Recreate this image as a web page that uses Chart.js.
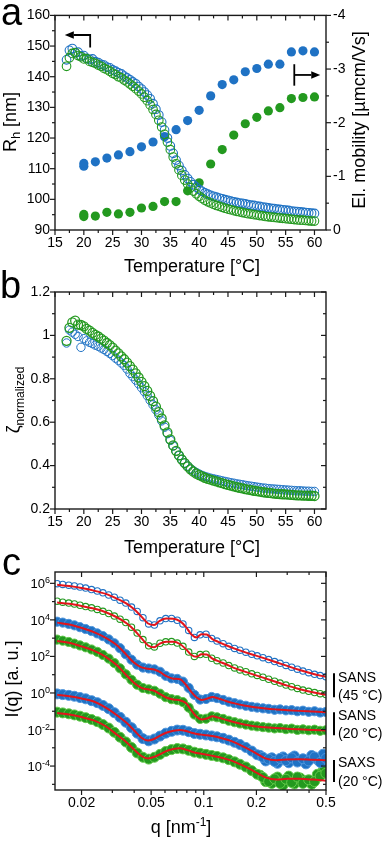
<!DOCTYPE html>
<html><head><meta charset="utf-8">
<script src="https://cdn.jsdelivr.net/npm/chart.js@4.4.1/dist/chart.umd.min.js"></script>
<style>
html,body{margin:0;padding:0;background:#fff;width:392px;height:842px;overflow:hidden;position:relative}
canvas{position:absolute;left:0}
</style></head><body>
<canvas id="ca" width="392" height="285" style="top:0px"></canvas>
<canvas id="cb" width="392" height="300" style="top:262px"></canvas>
<canvas id="cc" width="392" height="294" style="top:548px"></canvas>
<script>
// ---------------- DATA ----------------
// Panel a / b : temperature grid of DLS measurements (°C)
const tempDLS = [17,17.5,18,18.5,19,19.5,20,20.5,21,21.5,22,22.5,23,23.5,24,24.5,25,25.5,26,26.5,27,27.5,28,28.5,29,29.5,30,30.5,31,31.5,32,32.5,33,33.5,34,34.5,35,35.5,36,36.5,37,37.5,38,38.5,39,39.5,40,40.5,41,41.5,42,42.5,43,43.5,44,44.5,45,45.5,46,46.5,47,47.5,48,48.5,49,49.5,50,50.5,51,51.5,52,52.5,53,53.5,54,54.5,55,55.5,56,56.5,57,57.5,58,58.5,59,59.5,60];
// hydrodynamic radius Rh [nm]
const rhBlue = [145.5,148.6,149.2,147.8,148.0,146.8,146.9,146.0,145.6,145.8,
144.9,144.6,144.0,143.8,143.1,142.9,142.2,141.8,141.3,140.9,
140.2,139.6,139.0,138.3,137.7,136.8,136.0,135.0,134.0,132.8,
131.2,129.4,127.5,125.2,122.6,120.0,117.4,115.0,112.8,111.0,
109.4,108.0,106.8,105.7,104.8,104.0,103.2,102.6,102.1,101.7,
101.3,101.0,100.7,100.4,100.2,99.9,99.7,99.4,99.2,99.0,
98.8,98.7,98.5,98.3,98.1,98.0,97.8,97.7,97.5,97.4,
97.2,97.1,97.0,96.8,96.7,96.6,96.5,96.4,96.2,96.1,
96.0,95.9,95.8,95.7,95.6,95.5,95.4];
const rhGreen = [143.4,146.2,147.6,147.9,146.9,146.5,145.8,145.9,145.0,144.7,
144.4,143.8,143.4,142.7,142.3,141.8,141.1,140.7,140.0,139.6,
138.9,138.3,137.6,136.9,136.1,135.3,134.4,133.3,132.2,130.8,
129.3,127.7,125.8,123.6,121.2,118.7,116.2,113.8,111.6,109.6,
107.8,106.3,105.0,103.8,102.7,101.8,101.0,100.3,99.7,99.2,
98.8,98.4,98.0,97.7,97.4,97.1,96.8,96.6,96.3,96.1,
95.9,95.7,95.5,95.3,95.2,95.0,94.9,94.7,94.6,94.4,
94.3,94.2,94.1,94.0,93.9,93.8,93.7,93.6,93.5,93.4,
93.3,93.2,93.2,93.1,93.0,92.9,92.9];
// electrophoretic mobility [µmcm/Vs]
const tempMob = [20,20,22,24,26,28,30,32,34,36,38,40,42,44,46,48,50,52,54,56,58,60];
const mobBlue = [-1.19,-1.24,-1.27,-1.34,-1.40,-1.46,-1.55,-1.64,-1.74,-1.87,-2.04,-2.23,-2.50,-2.71,-2.80,-2.95,-3.01,-3.09,-3.09,-3.32,-3.34,-3.32];
const mobGreen = [-0.25,-0.29,-0.26,-0.33,-0.30,-0.33,-0.41,-0.44,-0.53,-0.53,-0.73,-0.88,-1.23,-1.50,-1.77,-1.98,-2.10,-2.22,-2.28,-2.45,-2.47,-2.48];
// normalized zeta (panel b)
const zetaBlue = [0.965,1.025,1.015,1.005,0.995,0.945,0.985,0.975,0.968,0.962,
0.955,0.950,0.942,0.935,0.926,0.917,0.907,0.895,0.885,0.873,
0.861,0.845,0.825,0.810,0.794,0.777,0.759,0.741,0.722,0.701,
0.680,0.657,0.633,0.606,0.577,0.547,0.516,0.490,0.466,0.446,
0.428,0.412,0.398,0.386,0.376,0.368,0.361,0.355,0.350,0.346,
0.342,0.339,0.336,0.333,0.330,0.327,0.324,0.321,0.319,0.316,
0.314,0.312,0.309,0.307,0.305,0.303,0.301,0.299,0.297,0.296,
0.294,0.293,0.292,0.291,0.290,0.289,0.288,0.287,0.286,0.285,
0.284,0.284,0.283,0.282,0.282,0.281,0.281];
const zetaGreen = [0.975,1.035,1.060,1.068,1.050,1.048,1.042,1.030,1.022,1.012,
1.002,0.995,0.985,0.976,0.965,0.955,0.944,0.930,0.917,0.903,
0.890,0.875,0.858,0.842,0.825,0.806,0.786,0.766,0.744,0.721,
0.697,0.672,0.646,0.617,0.585,0.553,0.521,0.493,0.468,0.447,
0.428,0.411,0.396,0.383,0.372,0.363,0.356,0.350,0.344,0.339,
0.335,0.331,0.327,0.323,0.319,0.315,0.311,0.308,0.304,0.301,
0.298,0.295,0.292,0.289,0.287,0.284,0.282,0.280,0.278,0.276,
0.274,0.273,0.271,0.270,0.269,0.268,0.267,0.266,0.265,0.264,
0.263,0.263,0.262,0.262,0.261,0.261,0.260];

// Panel c : scattering curves, values are log10(I(q)) in a.u.
const qData = [0.0145,0.0156,0.0169,0.0182,0.0196,0.0211,0.0228,0.0246,0.0265,0.0286,0.0308,0.0332,0.0358,0.0386,0.0416,0.0449,0.0484,0.0522,0.0562,0.0606,0.0654,0.0705,0.076,0.082,0.0884,0.0953,0.103,0.111,0.119,0.129,0.139,0.15,0.161,0.174,0.188,0.202,0.218,0.235,0.254,0.273,0.295,0.318,0.343,0.369,0.398,0.43,0.463,0.499];
const logSans45Blue = [5.98,5.94,5.90,5.86,5.80,5.74,5.66,5.58,5.48,5.36,5.24,5.08,4.92,4.70,4.46,4.12,3.78,3.72,3.95,4.07,4.08,3.98,3.78,3.42,3.04,3.18,3.22,2.98,2.84,2.70,2.55,2.44,2.34,2.23,2.12,2.03,1.93,1.83,1.72,1.62,1.51,1.41,1.30,1.20,1.11,1.02,0.95,0.89];
const logSans45Green = [5.02,4.97,4.92,4.87,4.80,4.73,4.66,4.57,4.47,4.35,4.21,4.04,3.85,3.60,3.28,2.92,2.58,2.52,2.72,2.80,2.81,2.73,2.55,2.24,2.00,2.10,2.12,1.90,1.77,1.64,1.50,1.37,1.26,1.16,1.05,0.96,0.86,0.75,0.64,0.54,0.43,0.34,0.25,0.16,0.09,0.02,-0.04,-0.09];
const logSans20Blue = [3.90,3.85,3.78,3.70,3.60,3.50,3.39,3.26,3.11,2.93,2.72,2.45,2.12,1.82,1.55,1.39,1.34,1.29,1.16,0.94,0.80,0.77,0.62,0.28,-0.10,-0.36,-0.33,-0.22,-0.28,-0.38,-0.48,-0.56,-0.63,-0.70,-0.76,-0.80,-0.84,-0.87,-0.92,-0.90,-0.95,-0.94,-1.00,-0.97,-1.03,-1.00,-1.07,-1.04];
const logSans20Green = [2.92,2.86,2.79,2.70,2.60,2.50,2.38,2.25,2.08,1.88,1.64,1.35,1.02,0.72,0.45,0.27,0.20,0.12,-0.04,-0.23,-0.34,-0.39,-0.50,-0.80,-1.18,-1.42,-1.41,-1.28,-1.33,-1.42,-1.52,-1.60,-1.67,-1.73,-1.79,-1.83,-1.87,-1.90,-1.94,-1.92,-1.98,-1.95,-2.02,-1.99,-2.04,-2.01,-2.07,-2.04];
const logSaxsBlue = [-0.05,-0.09,-0.13,-0.18,-0.25,-0.32,-0.42,-0.53,-0.68,-0.86,-1.08,-1.33,-1.60,-1.90,-2.20,-2.50,-2.62,-2.52,-2.36,-2.20,-2.10,-2.03,-2.04,-2.12,-2.22,-2.26,-2.30,-2.35,-2.40,-2.48,-2.58,-2.70,-2.82,-2.98,-3.18,-3.38,-3.52,-3.62,-3.75,-3.58,-3.70,-3.55,-3.78,-3.60,-3.72,-3.50,-3.80,-3.58];
const logSaxsGreen = [-1.05,-1.09,-1.14,-1.20,-1.27,-1.35,-1.45,-1.57,-1.73,-1.92,-2.15,-2.42,-2.68,-2.98,-3.28,-3.52,-3.62,-3.52,-3.36,-3.20,-3.10,-3.04,-3.06,-3.14,-3.24,-3.30,-3.36,-3.42,-3.47,-3.55,-3.65,-3.77,-3.90,-4.05,-4.25,-4.45,-4.62,-4.85,-4.70,-4.95,-4.72,-4.90,-4.60,-4.95,-4.75,-4.85,-4.55,-4.40];
// additional noisy SAXS points at high q
const qSaxsExtra = [0.21,0.226,0.245,0.264,0.284,0.306,0.33,0.356,0.384,0.414,0.446,0.481,0.49];
const logSaxsBlueExtra = [-3.42,-3.72,-3.55,-3.85,-3.50,-3.82,-3.45,-3.70,-3.88,-3.42,-3.65,-3.35,-3.75];
const logSaxsGreenExtra = [-4.50,-4.85,-4.95,-4.60,-5.05,-4.55,-4.98,-4.65,-4.80,-5.00,-4.45,-4.25,-4.10];
// model fits
const qFit = [0.0145,0.017,0.02,0.0235,0.0275,0.032,0.036,0.04,0.044,0.048,0.052,0.056,0.061,0.067,0.073,0.079,0.085,0.091,0.097,0.104,0.112,0.121,0.135,0.15,0.17,0.195,0.225,0.26,0.3,0.35,0.42,0.5];
const fitSans45Blue = [5.92,5.85,5.74,5.60,5.42,5.15,4.90,4.58,4.18,3.80,3.72,3.95,4.07,4.06,3.93,3.62,3.20,3.04,3.22,3.20,2.95,2.80,2.60,2.43,2.25,2.07,1.88,1.68,1.48,1.27,1.05,0.88];
const fitSans45Green = [4.95,4.88,4.76,4.62,4.42,4.13,3.83,3.45,3.00,2.60,2.50,2.70,2.80,2.80,2.68,2.40,2.08,1.98,2.12,2.10,1.88,1.74,1.56,1.36,1.18,0.99,0.80,0.60,0.40,0.22,0.04,-0.10];
const fitSans20Blue = [3.85,3.75,3.56,3.33,3.02,2.60,2.10,1.65,1.40,1.33,1.28,1.15,0.92,0.78,0.75,0.45,0.05,-0.25,-0.38,-0.32,-0.22,-0.30,-0.45,-0.57,-0.68,-0.78,-0.85,-0.90,-0.94,-0.98,-1.02,-1.06];
const fitSans20Green = [2.85,2.75,2.55,2.32,1.98,1.50,0.98,0.55,0.28,0.20,0.12,-0.05,-0.25,-0.36,-0.40,-0.55,-0.95,-1.30,-1.45,-1.40,-1.28,-1.35,-1.48,-1.60,-1.72,-1.82,-1.88,-1.92,-1.96,-1.99,-2.02,-2.05];
const fitSaxsBlue = [-0.10,-0.18,-0.30,-0.47,-0.80,-1.23,-1.62,-2.05,-2.45,-2.60,-2.52,-2.35,-2.18,-2.07,-2.02,-2.08,-2.18,-2.24,-2.28,-2.31,-2.36,-2.42,-2.55,-2.70,-2.95,-3.25,-3.58,-3.68,-3.64,-3.63,-3.66,-3.68];
const fitSaxsGreen = [-1.10,-1.18,-1.32,-1.50,-1.82,-2.30,-2.68,-3.10,-3.45,-3.58,-3.50,-3.36,-3.18,-3.07,-3.03,-3.10,-3.20,-3.28,-3.33,-3.38,-3.44,-3.50,-3.62,-3.77,-4.00,-4.30,-4.62,-4.74,-4.70,-4.70,-4.74,-4.80];

// ticks
const tempMajor = [15,20,25,30,35,40,45,50,55,60];
const tempMinor = [17.5,22.5,27.5,32.5,37.5,42.5,47.5,52.5,57.5];
const rhMajor = [90,100,110,120,130,140,150,160];
const rhMinor = [95,105,115,125,135,145,155];
const mobMajor = [-4,-3,-2,-1,0];
const mobMinor = [-3.5,-2.5,-1.5,-0.5];
const zetaMajor = [0.2,0.4,0.6,0.8,1,1.2];
const zetaMinor = [0.3,0.5,0.7,0.9,1.1];
const qMajor = [0.02,0.05,0.1,0.2,0.5];
const qMinor = [0.03,0.04,0.06,0.07,0.08,0.09,0.3,0.4];
const logIMajor = [-4,-2,0,2,4,6];
const logIMinor = [-5,-3,-1,1,3,5];

// ---------------- STYLE / HELPERS ----------------
const FONT = '"Liberation Sans", Arial, Helvetica, sans-serif';
Chart.defaults.font.family = FONT;
Chart.defaults.font.size = 14;
Chart.defaults.color = '#000';
Chart.defaults.animation = false;
Chart.defaults.plugins.legend.display = false;
Chart.defaults.plugins.tooltip.enabled = false;

const BLUE = '#1f72c4', GREEN = '#23991f', RED = '#e3141b', AXIS = '#1a1a1a';
const BLUE_EDGE = '#4f95dc', GREEN_EDGE = '#62c94a';

function pts(xs, ys){ return xs.map((x,i)=>({x:x, y:ys[i]})); }
function fixW(w){ return s => { s.width = w; }; }
function fixH(h){ return s => { s.height = h; }; }
function setTicks(maj, min){ return s => { s.ticks = maj.concat(min).sort((a,b)=>a-b).map(v=>({value:v})); }; }
function labelIf(list){ return v => list.indexOf(v) >= 0 ? String(v) : ''; }

function axisBase(extra){
  return Object.assign({
    bounds:'data',
    grid:{display:false, drawTicks:false},
    border:{display:false}
  }, extra);
}

function drawParts(ctx, parts, x, y, rot, align){
  ctx.save();
  ctx.translate(x, y);
  if (rot) ctx.rotate(rot);
  ctx.fillStyle = '#000';
  ctx.textBaseline = 'alphabetic';
  ctx.textAlign = 'left';
  let total = 0;
  const ws = parts.map(p => { ctx.font = p[1] + 'px ' + FONT; const w = ctx.measureText(p[0]).width; total += w; return w; });
  let cx = align === 'center' ? -total/2 : (align === 'right' ? -total : 0);
  parts.forEach((p,i) => { ctx.font = p[1] + 'px ' + FONT; ctx.fillText(p[0], cx, p[2] || 0); cx += ws[i]; });
  ctx.restore();
}

function drawFrame(chart, specs){
  const ctx = chart.ctx, a = chart.chartArea;
  ctx.save();
  ctx.strokeStyle = AXIS;
  ctx.lineWidth = 1.2;
  specs.forEach(sp => {
    const s = chart.scales[sp.scale];
    s.ticks.forEach(t => {
      const p = s.getPixelForValue(t.value);
      const len = sp.major.indexOf(t.value) >= 0 ? 5 : 3;
      const sg = sp.dir === 'out' ? 1 : -1;
      ctx.beginPath();
      if (sp.side === 'bottom'){ ctx.moveTo(p, a.bottom); ctx.lineTo(p, a.bottom + sg*len); }
      else if (sp.side === 'top'){ ctx.moveTo(p, a.top); ctx.lineTo(p, a.top - sg*len); }
      else if (sp.side === 'left'){ ctx.moveTo(a.left, p); ctx.lineTo(a.left - sg*len, p); }
      else { ctx.moveTo(a.right, p); ctx.lineTo(a.right + sg*len, p); }
      ctx.stroke();
    });
  });
  ctx.lineWidth = 1.4;
  ctx.strokeRect(a.left, a.top, a.right - a.left, a.bottom - a.top);
  ctx.restore();
}

function arrow(ctx, path){
  const n = path.length;
  const [x1,y1] = path[n-2], [x2,y2] = path[n-1];
  const ang = Math.atan2(y2-y1, x2-x1), L = 9, W = 3.8;
  const bx = x2 - L*Math.cos(ang), by = y2 - L*Math.sin(ang);
  ctx.save();
  ctx.strokeStyle = '#000'; ctx.fillStyle = '#000'; ctx.lineWidth = 1.8;
  ctx.beginPath();
  ctx.moveTo(path[0][0], path[0][1]);
  for (let i=1;i<n-1;i++) ctx.lineTo(path[i][0], path[i][1]);
  ctx.lineTo(bx, by);
  ctx.stroke();
  ctx.beginPath();
  ctx.moveTo(x2, y2);
  ctx.lineTo(bx + W*Math.sin(ang), by - W*Math.cos(ang));
  ctx.lineTo(bx - W*Math.sin(ang), by + W*Math.cos(ang));
  ctx.closePath(); ctx.fill();
  ctx.restore();
}

// annotation anchors (in data units)
const arrowRh = {start:[21.1,149.5], corner:[21.1,153.6], tip:[16.7,153.6]};
const arrowMob = {x:56.5, top:-3.09, bottom:-2.69, y:-2.89, tipX:61.0};

// ---------------- PANEL a ----------------
new Chart(document.getElementById('ca'), {
  type:'scatter',
  data:{datasets:[
    {data:pts(tempDLS, rhGreen), yAxisID:'y', borderColor:GREEN, backgroundColor:'rgba(0,0,0,0)', pointRadius:4.3, borderWidth:1.1},
    {data:pts(tempDLS, rhBlue), yAxisID:'y', borderColor:BLUE, backgroundColor:'rgba(0,0,0,0)', pointRadius:4.3, borderWidth:1.1},
    {data:pts(tempMob, mobGreen), yAxisID:'y2', borderColor:GREEN, backgroundColor:GREEN, pointRadius:4.6, borderWidth:0},
    {data:pts(tempMob, mobBlue), yAxisID:'y2', borderColor:BLUE, backgroundColor:BLUE, pointRadius:4.6, borderWidth:0}
  ]},
  options:{
    responsive:false, devicePixelRatio:1,
    layout:{padding:{top:11,left:0,right:0,bottom:0}},
    scales:{
      x:axisBase({type:'linear', position:'bottom', min:15, max:62, afterBuildTicks:setTicks(tempMajor,tempMinor), afterFit:fixH(55),
        ticks:{callback:labelIf(tempMajor), padding:5, autoSkip:false, maxRotation:0, minRotation:0}}),
      y:axisBase({type:'linear', position:'left', min:90, max:160, afterBuildTicks:setTicks(rhMajor,rhMinor), afterFit:fixW(55),
        ticks:{callback:labelIf(rhMajor), padding:5, autoSkip:false}}),
      y2:axisBase({type:'linear', position:'right', min:-4, max:0, reverse:true, afterBuildTicks:setTicks(mobMajor,mobMinor), afterFit:fixW(66),
        ticks:{callback:labelIf(mobMajor), padding:7, autoSkip:false}})
    }
  },
  plugins:[{id:'pa', afterDraw(chart){
    const ctx = chart.ctx, x = chart.scales.x, y = chart.scales.y, y2 = chart.scales.y2;
    drawFrame(chart, [
      {scale:'x', side:'bottom', dir:'out', major:tempMajor},
      {scale:'x', side:'top', dir:'in', major:tempMajor},
      {scale:'y', side:'left', dir:'out', major:rhMajor},
      {scale:'y2', side:'right', dir:'out', major:mobMajor}
    ]);
    const P = (s,v)=>s.getPixelForValue(v);
    arrow(ctx, [[P(x,arrowRh.start[0]),P(y,arrowRh.start[1])],[P(x,arrowRh.corner[0]),P(y,arrowRh.corner[1])],[P(x,arrowRh.tip[0]),P(y,arrowRh.tip[1])]]);
    ctx.save(); ctx.strokeStyle='#000'; ctx.lineWidth=1.8; ctx.beginPath();
    ctx.moveTo(P(x,arrowMob.x), P(y2,arrowMob.top)); ctx.lineTo(P(x,arrowMob.x), P(y2,arrowMob.bottom)); ctx.stroke(); ctx.restore();
    arrow(ctx, [[P(x,arrowMob.x),P(y2,arrowMob.y)],[P(x,arrowMob.tipX),P(y2,arrowMob.y)]]);
    drawParts(ctx, [['a',38]], 1, 25, 0, 'left');
    drawParts(ctx, [['Temperature [°C]',18]], 192, 272, 0, 'center');
    drawParts(ctx, [['R',18],['h',13,4],[' [nm]',18]], 16, 122, -Math.PI/2, 'center');
    drawParts(ctx, [['El. mobility [µmcm/Vs]',18]], 365, 120, -Math.PI/2, 'center');
  }}]
});

// ---------------- PANEL b ----------------
new Chart(document.getElementById('cb'), {
  type:'scatter',
  data:{datasets:[
    {data:pts(tempDLS, zetaGreen), borderColor:GREEN, backgroundColor:'rgba(0,0,0,0)', pointRadius:4.5, borderWidth:1.3},
    {data:pts(tempDLS, zetaBlue), borderColor:BLUE, backgroundColor:'rgba(0,0,0,0)', pointRadius:4.2, borderWidth:1}
  ]},
  options:{
    responsive:false, devicePixelRatio:1,
    layout:{padding:{top:30,left:0,right:66,bottom:0}},
    scales:{
      x:axisBase({type:'linear', position:'bottom', min:15, max:62, afterBuildTicks:setTicks(tempMajor,tempMinor), afterFit:fixH(53),
        ticks:{callback:labelIf(tempMajor), padding:5, autoSkip:false, maxRotation:0, minRotation:0}}),
      y:axisBase({type:'linear', position:'left', min:0.2, max:1.2, afterBuildTicks:setTicks(zetaMajor,zetaMinor), afterFit:fixW(55),
        ticks:{callback:labelIf(zetaMajor), padding:5, autoSkip:false}})
    }
  },
  plugins:[{id:'pb', afterDraw(chart){
    const ctx = chart.ctx;
    drawFrame(chart, [
      {scale:'x', side:'bottom', dir:'out', major:tempMajor},
      {scale:'x', side:'top', dir:'in', major:tempMajor},
      {scale:'y', side:'left', dir:'out', major:zetaMajor},
      {scale:'y', side:'right', dir:'in', major:zetaMajor}
    ]);
    drawParts(ctx, [['b',38]], 0, 36, 0, 'left');
    drawParts(ctx, [['Temperature [°C]',18]], 192, 291, 0, 'center');
    drawParts(ctx, [['ζ',18],['normalized',12,5]], 19, 138, -Math.PI/2, 'center');
  }}]
});

// ---------------- PANEL c ----------------
const bandLabels = [
  {bar:[1.08,-0.23], lines:[['SANS',0.59],['(45 °C)',-0.39]]},
  {bar:[-1.05,-2.31], lines:[['SANS',-1.49],['(20 °C)',-2.47]]},
  {bar:[-3.67,-4.87], lines:[['SAXS',-4.05],['(20 °C)',-5.09]]}
];
function fitSet(ys){ return {data:pts(qFit, ys), showLine:true, borderColor:RED, backgroundColor:RED, borderWidth:2, pointRadius:0, cubicInterpolationMode:'monotone'}; }
function openSet(ys, c){ return {data:pts(qData, ys), borderColor:c, backgroundColor:'rgba(0,0,0,0)', pointRadius:3.2, borderWidth:1.1}; }
function bandSet(xs, ys, c, e, r){ return {data:pts(xs, ys), showLine:true, borderColor:c, borderWidth:2*r-2, borderJoinStyle:'round', borderCapStyle:'round',
  pointBackgroundColor:c, pointBorderColor:e, pointBorderWidth:1, pointRadius:r}; }
function fillSet(xs, ys, c, e, r){ return {data:pts(xs, ys), pointBackgroundColor:c, pointBorderColor:e, pointBorderWidth:1, pointRadius:r}; }

new Chart(document.getElementById('cc'), {
  type:'scatter',
  data:{datasets:[
    fitSet(fitSans45Blue), fitSet(fitSans45Green), fitSet(fitSans20Blue), fitSet(fitSans20Green), fitSet(fitSaxsBlue), fitSet(fitSaxsGreen),
    openSet(logSans45Blue, BLUE), openSet(logSans45Green, GREEN),
    bandSet(qData, logSans20Blue, BLUE, BLUE_EDGE, 4.6), bandSet(qData, logSans20Green, GREEN, GREEN_EDGE, 4.6),
    bandSet(qData, logSaxsBlue, BLUE, BLUE_EDGE, 5), fillSet(qSaxsExtra, logSaxsBlueExtra, BLUE, BLUE_EDGE, 5),
    bandSet(qData, logSaxsGreen, GREEN, GREEN_EDGE, 5), fillSet(qSaxsExtra, logSaxsGreenExtra, GREEN, GREEN_EDGE, 5)
  ]},
  options:{
    responsive:false, devicePixelRatio:1,
    layout:{padding:{top:24,left:0,right:66,bottom:0}},
    scales:{
      x:axisBase({type:'logarithmic', position:'bottom', min:0.0141, max:0.5, afterBuildTicks:setTicks(qMajor,qMinor), afterFit:fixH(52),
        ticks:{callback:labelIf(qMajor), padding:5, autoSkip:false, maxRotation:0, minRotation:0}}),
      y:axisBase({type:'linear', position:'left', min:-5.31, max:6.62, afterBuildTicks:setTicks(logIMajor,logIMinor), afterFit:fixW(55),
        ticks:{callback:()=>'', padding:5, autoSkip:false}})
    }
  },
  plugins:[{id:'pc', afterDraw(chart){
    const ctx = chart.ctx, y = chart.scales.y, a = chart.chartArea;
    drawFrame(chart, [
      {scale:'x', side:'bottom', dir:'out', major:qMajor},
      {scale:'x', side:'top', dir:'in', major:qMajor},
      {scale:'y', side:'left', dir:'out', major:logIMajor},
      {scale:'y', side:'right', dir:'in', major:logIMajor}
    ]);
    logIMajor.forEach(v => {
      const py = y.getPixelForValue(v);
      drawParts(ctx, [['10',13],[String(v),9,-5]], a.left - 5, py + 5, 0, 'right');
    });
    bandLabels.forEach(g => {
      ctx.save(); ctx.strokeStyle='#000'; ctx.lineWidth=2; ctx.beginPath();
      ctx.moveTo(a.right + 8, y.getPixelForValue(g.bar[0])); ctx.lineTo(a.right + 8, y.getPixelForValue(g.bar[1])); ctx.stroke(); ctx.restore();
      g.lines.forEach(l => drawParts(ctx, [[l[0],14]], a.right + 12, y.getPixelForValue(l[1]), 0, 'left'));
    });
    drawParts(ctx, [['c',38]], 2, 27, 0, 'left');
    drawParts(ctx, [['q [nm',18],['-1',12,-7],[']',18]], 181, 285, 0, 'center');
    drawParts(ctx, [['I(q) [a. u.]',18]], 18, 131, -Math.PI/2, 'center');
  }}]
});
</script>
</body></html>
